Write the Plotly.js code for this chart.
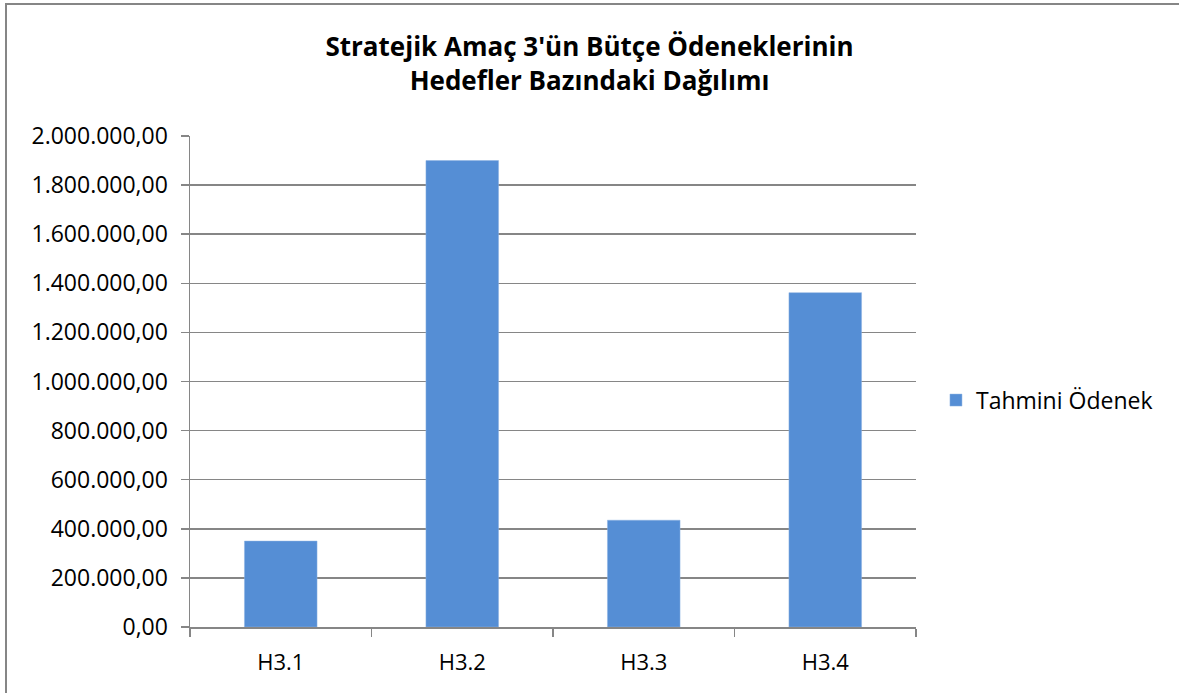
<!DOCTYPE html>
<html>
<head>
<meta charset="utf-8">
<script src="https://cdn.plot.ly/plotly-3.0.1.min.js"></script>
<style>
html,body{margin:0;padding:0;background:#fff;overflow:hidden;}
#frame{position:absolute;left:5px;top:3px;width:1200px;height:720px;border-left:2px solid #868686;border-top:2px solid #868686;}
#chart{position:absolute;left:0;top:0;width:1179px;height:693px;}
</style>
</head>
<body>
<div id="frame"></div>
<div id="chart"></div>
<script>
const categories = ["H3.1", "H3.2", "H3.3", "H3.4"];
const values = [350000, 1900000, 435000, 1362000];
const seriesName = "Tahmini Ödenek";
const titleText = "Stratejik Amaç 3'ün Bütçe Ödeneklerinin<br>Hedefler Bazındaki Dağılımı";
const yTicks = [0, 200000, 400000, 600000, 800000, 1000000, 1200000, 1400000, 1600000, 1800000, 2000000];

const font = "Open Sans, sans-serif";
const grid = "#868686";

Plotly.newPlot("chart", [{
  type: "bar",
  x: categories,
  y: values,
  name: seriesName,
  marker: {color: "#558ED5", line: {color: "#8db3e2", width: 0.5}},
  showlegend: true
}], {
  width: 1179, height: 693,
  paper_bgcolor: "rgba(0,0,0,0)",
  plot_bgcolor: "rgba(0,0,0,0)",
  separators: ",.",
  margin: {l: 190, r: 263, t: 136, b: 66},
  bargap: 0.6,
  font: {family: font, color: "#000", size: 23},
  title: {text: titleText, font: {family: font, size: 26, color: "#000", weight: "bold"}, x: 0.5, xanchor: "center", y: 0.919, yanchor: "top"},
  xaxis: {
    type: "category",
    showline: true, linecolor: grid, linewidth: 1.5,
    ticks: "outside", ticklen: 8, tickcolor: grid, tickwidth: 1.5,
    tickson: "boundaries",
    showgrid: false,
    tickfont: {family: font, size: 22},
    ticklabelstandoff: 15,
    fixedrange: true
  },
  yaxis: {
    range: [0, 2000000],
    tickvals: yTicks,
    tickformat: ",.2f",
    showline: true, linecolor: grid, linewidth: 1.5,
    ticks: "outside", ticklen: 8, tickcolor: grid, tickwidth: 1.5,
    showgrid: true, gridcolor: grid, gridwidth: 1.5,
    zeroline: false,
    tickfont: {family: font, size: 23},
    ticklabelstandoff: 8,
    fixedrange: true
  },
  legend: {x: 1.0275, xanchor: "left", y: 0.462, yanchor: "middle", font: {family: font, size: 23}, itemwidth: 30, bgcolor: "rgba(0,0,0,0)"}
}, {displayModeBar: false, staticPlot: true});
</script>
</body>
</html>
